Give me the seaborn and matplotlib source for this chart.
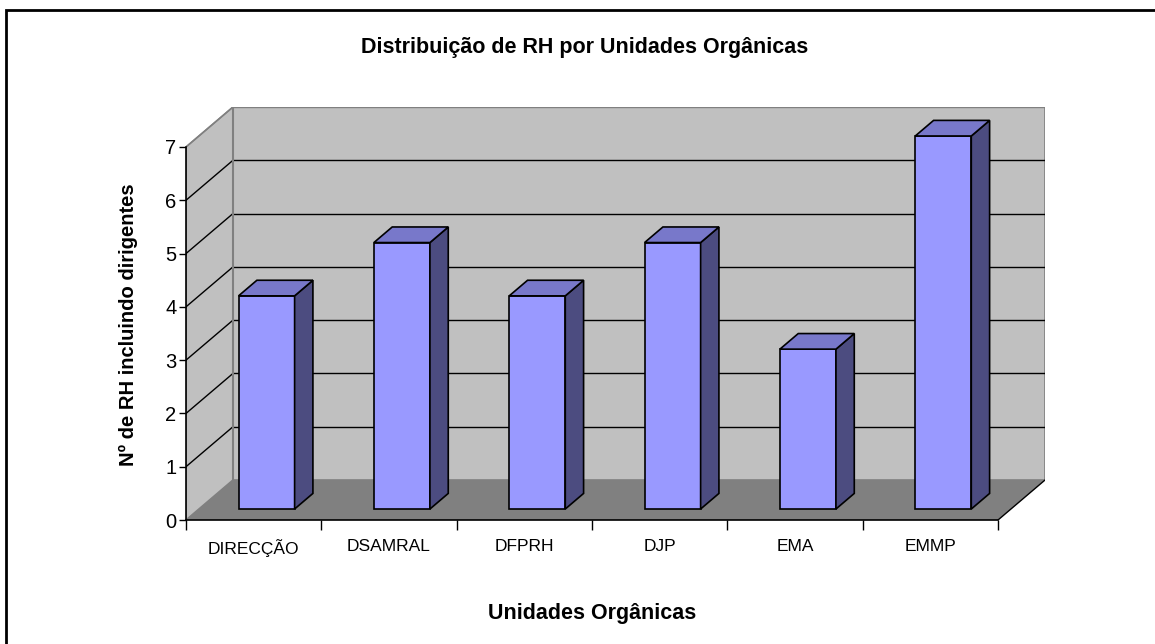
import numpy as np
import pandas as pd
import matplotlib
matplotlib.use("Agg")
import matplotlib.pyplot as plt
from matplotlib import font_manager
from matplotlib.patches import Polygon, Rectangle
import seaborn as sns

# data
unidades = ["DIRECÇÃO", "DSAMRAL", "DFPRH", "DJP", "EMA", "EMMP"]
rh = [4, 5, 4, 5, 3, 7]
y_ticks = [0, 1, 2, 3, 4, 5, 6, 7]

df = pd.DataFrame({"unidade": unidades, "rh": rh})

sns.set_theme(style="white")
names = {f.name for f in font_manager.fontManager.ttflist}
narrow = "Liberation Sans Narrow" if "Liberation Sans Narrow" in names else "Liberation Sans"
plt.rcParams["font.family"] = ["Liberation Sans", "DejaVu Sans"]
plt.rcParams["text.color"] = "black"
plt.rcParams["xtick.color"] = "black"
plt.rcParams["ytick.color"] = "black"

# 3d look: depth of the plot box and of the bars (data units)
DX, DY = 0.347, 0.75
f_front, f_depth = 0.275, 0.39
front_col, side_col, top_col = "#9999FF", "#4C4C80", "#7878CA"
wall_col, floor_col = "#C0C0C0", "#808080"

fig = plt.figure(figsize=(11.55, 6.44), dpi=100)
W, H = 1155, 644
ax = fig.add_axes([186 / W, (H - 520) / H, (1045 - 186) / W, (520 - 107) / H])
ax.set_facecolor("none")

n = len(unidades)
x0, x1 = -0.5, n - 0.5
ymax = max(y_ticks)

# walls and floor
ax.add_patch(Polygon([(x0, 0), (x0 + DX, DY), (x0 + DX, ymax + DY), (x0, ymax)],
                     closed=True, fc=wall_col, ec="#808080", lw=1.2, zorder=0))
ax.add_patch(Polygon([(x0 + DX, DY), (x1 + DX, DY), (x1 + DX, ymax + DY), (x0 + DX, ymax + DY)],
                     closed=True, fc=wall_col, ec="#808080", lw=1.2, zorder=0))
for k in y_ticks[1:]:
    ax.plot([x0 + DX, x1 + DX], [k + DY, k + DY], color="black" if k < ymax else "#808080", lw=1, zorder=1)
    ax.plot([x0, x0 + DX], [k, k + DY], color="black" if k < ymax else "#808080", lw=1, zorder=1)
ax.add_patch(Polygon([(x0, 0), (x1, 0), (x1 + DX, DY), (x0 + DX, DY)],
                     closed=True, fc=floor_col, ec="none", zorder=1.5))
ax.plot([x1, x1 + DX], [0, DY], color="black", lw=1, zorder=1.6)
ax.plot([x0 + DX, x0 + DX], [DY, ymax + DY], color="#808080", lw=1.5, zorder=1.6)

# front faces of the bars
sns.barplot(data=df, x="unidade", y="rh", color=front_col, saturation=1,
            width=0.414, edgecolor="black", linewidth=1.2, ax=ax, zorder=3)

for p in ax.patches:
    if p.get_zorder() != 3:
        continue
    p.set_x(p.get_x() + f_front * DX)
    p.set_y(f_front * DY)
    bx0, bx1 = p.get_x(), p.get_x() + p.get_width()
    by0, by1 = p.get_y(), p.get_y() + p.get_height()
    ox, oy = f_depth * DX, f_depth * DY
    ax.add_patch(Polygon([(bx1, by0), (bx1 + ox, by0 + oy), (bx1 + ox, by1 + oy), (bx1, by1)],
                         closed=True, fc=side_col, ec="black", lw=1.2, zorder=3))
    ax.add_patch(Polygon([(bx0, by1), (bx1, by1), (bx1 + ox, by1 + oy), (bx0 + ox, by1 + oy)],
                         closed=True, fc=top_col, ec="black", lw=1.2, zorder=3))

ax.set_xlim(x0, x1 + DX)
ax.set_ylim(0, ymax + DY)

# axes lines and ticks
for s in ["top", "right"]:
    ax.spines[s].set_visible(False)
ax.spines["left"].set_bounds(0, ymax)
ax.spines["bottom"].set_bounds(x0, x1)
for s in ["left", "bottom"]:
    ax.spines[s].set_color("black")
    ax.spines[s].set_linewidth(1.2)
    ax.spines[s].set_zorder(2)

ax.set_yticks(y_ticks)
ax.set_yticklabels([str(t) for t in y_ticks], fontsize=14.5, family=narrow)
ax.tick_params(axis="y", direction="out", length=5, width=1, color="black", pad=2, left=True)

ax.set_xticks(np.arange(x0, x1 + 0.01, 1.0))
ax.set_xticklabels([])
ax.set_xticks(np.arange(n), minor=True)
ax.set_xticklabels(unidades, minor=True, fontsize=12.5, family=narrow)
ax.tick_params(axis="x", which="major", direction="out", length=7, width=1, color="black", bottom=True)
ax.tick_params(axis="x", which="minor", length=0, pad=14)

ax.set_xlabel("")
ax.set_ylabel("")
ax.grid(False)

fig.text(585 / W, 1 - 47 / H, "Distribuição de RH por Unidades Orgânicas",
         ha="center", va="center", fontsize=15.5, fontweight="bold", color="black")
fig.text(592 / W, 1 - 613 / H, "Unidades Orgânicas",
         ha="center", va="center", fontsize=15.5, fontweight="bold", color="black")
fig.text(128 / W, 1 - 325 / H, "Nº de RH incluindo dirigentes", rotation=90,
         ha="center", va="center", fontsize=14.5, fontweight="bold", color="black")

# chart frame (top and left edges visible)
fig.patches.append(Rectangle((6 / W, -0.1), 1.2, 1 - 10 / H + 0.1, transform=fig.transFigure,
                             fill=False, ec="black", lw=2, figure=fig))

fig.savefig("out.png", dpi=100)
